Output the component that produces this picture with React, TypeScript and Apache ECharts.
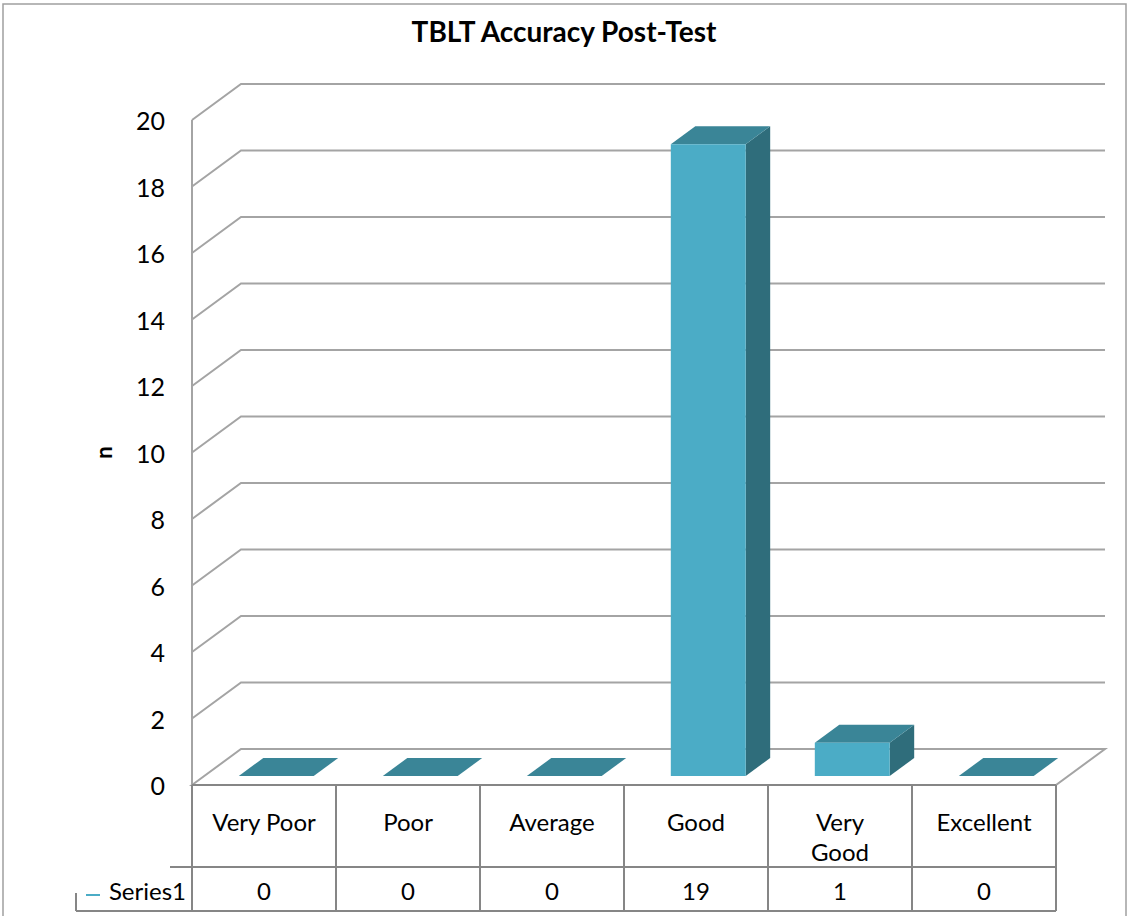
import React, { useEffect, useRef } from "react";
import * as echarts from "echarts";

const categories = ["Very Poor", "Poor", "Average", "Good", "Very Good", "Excellent"];
const counts = [0, 0, 0, 19, 1, 0];
const yTicks = [0, 2, 4, 6, 8, 10, 12, 14, 16, 18, 20];
const seriesName = "Series1";
const chartTitle = "TBLT Accuracy Post-Test";
const yAxisName = "n";

const FONT = "Lato, 'Noto Sans', sans-serif";
const DX = 49;
const DY = -36;
const GRID_COLOR = "#a4a4a4";
const TABLE_COLOR = "#868686";
const FRONT = "#4BACC6";
const TOP = "#3A8597";
const SIDE = "#2F6D7B";
const TABLE_ROW = 867;
const TABLE_BOTTOM = 911;

export default function App() {
  const ref = useRef<HTMLDivElement>(null);
  useEffect(() => {
    if (!ref.current) return;
    const chart = echarts.init(ref.current, null, { renderer: "svg" });
    const option: any = {
      animation: false,
      backgroundColor: "#fff",
      title: {
        text: chartTitle,
        left: "center",
        top: 12,
        textStyle: { fontFamily: FONT, fontWeight: "bold", fontSize: 28, color: "#000" },
      },
      grid: { left: 192, top: 120, width: 864, height: 665 },
      xAxis: {
        type: "category",
        data: categories,
        axisLine: { show: false },
        axisTick: { show: false },
        splitLine: { show: false },
        axisLabel: {
          interval: 0,
          margin: 21,
          fontFamily: FONT,
          fontSize: 24,
          lineHeight: 30,
          color: "#000",
          verticalAlign: "top",
          formatter: (v: string) => (v === "Very Good" ? "Very\nGood" : v),
        },
      },
      yAxis: {
        type: "value",
        min: 0,
        max: 20,
        interval: 2,
        axisLine: { show: false },
        axisTick: { show: false },
        splitLine: { show: false },
        axisLabel: { margin: 27, fontFamily: FONT, fontSize: 25, color: "#000" },
        name: yAxisName,
        nameLocation: "middle",
        nameGap: 78,
        nameRotate: 90,
        nameTextStyle: { fontFamily: FONT, fontWeight: "bold", fontSize: 22, color: "#000" },
      },
      graphic: [
        {
          type: "rect",
          shape: { x: 3, y: 4, width: 1123, height: 930 },
          style: { fill: "none", stroke: "#a0a0a0", lineWidth: 1.5 },
          z: -10,
        },
      ],
      series: [
        {
          type: "custom",
          name: "walls",
          clip: false,
          z: 1,
          silent: true,
          encode: { x: 0, y: 1 },
          data: yTicks.map((v) => [0, v]),
          renderItem: (params: any, api: any) => {
            const v = api.value(1);
            const cs = params.coordSys;
            const left = cs.x;
            const right = cs.x + cs.width;
            const y = api.coord([0, v])[1];
            const children: any[] = [];
            if (v === 0) {
              children.push({
                type: "polygon",
                shape: { points: [[left, y], [left + DX, y + DY], [right + DX, y + DY], [right, y]] },
                style: { fill: "none", stroke: GRID_COLOR, lineWidth: 2 },
              });
            } else {
              children.push({
                type: "polyline",
                shape: { points: [[left, y], [left + DX, y + DY], [right + DX, y + DY]] },
                style: { fill: "none", stroke: GRID_COLOR, lineWidth: 2 },
              });
            }
            if (v === yTicks[yTicks.length - 1]) {
              children.push({
                type: "line",
                shape: { x1: left, y1: y, x2: left, y2: cs.y + cs.height },
                style: { stroke: GRID_COLOR, lineWidth: 2 },
              });
            }
            return { type: "group", children };
          },
        },
        {
          type: "custom",
          name: seriesName,
          clip: false,
          z: 3,
          encode: { x: 0, y: 1 },
          data: counts.map((v, i) => [i, v]),
          renderItem: (params: any, api: any) => {
            const idx = api.value(0);
            const v = api.value(1);
            const base = api.coord([idx, 0]);
            const top = api.coord([idx, v]);
            const band = api.size([1, 0])[0];
            const w = band * 0.52;
            const fx = DX * 0.25;
            const fy = DY * 0.25;
            const bx = DX * 0.5;
            const by = DY * 0.5;
            const x0 = base[0] + fx - w / 2;
            const x1 = x0 + w;
            const yb = base[1] + fy;
            const yt = top[1] + fy;
            const children: any[] = [];
            if (v <= 0) {
              children.push({
                type: "polygon",
                shape: { points: [[x0, yb], [x1, yb], [x1 + bx, yb + by], [x0 + bx, yb + by]] },
                style: { fill: TOP },
              });
            } else {
              children.push({
                type: "polygon",
                shape: { points: [[x1, yt], [x1 + bx, yt + by], [x1 + bx, yb + by], [x1, yb]] },
                style: { fill: SIDE },
              });
              children.push({
                type: "polygon",
                shape: { points: [[x0, yt], [x1, yt], [x1 + bx, yt + by], [x0 + bx, yt + by]] },
                style: { fill: TOP },
              });
              children.push({
                type: "rect",
                shape: { x: x0, y: yt, width: w, height: yb - yt },
                style: { fill: FRONT },
              });
            }
            return { type: "group", children };
          },
        },
        {
          type: "custom",
          name: "table",
          clip: false,
          z: 4,
          silent: true,
          encode: { x: 0, y: 1 },
          data: counts.map((v, i) => [i, v]),
          renderItem: (params: any, api: any) => {
            const idx = api.value(0);
            const v = api.value(1);
            const cs = params.coordSys;
            const left = cs.x;
            const right = cs.x + cs.width;
            const yTop = cs.y + cs.height;
            const c = api.coord([idx, 0]);
            const band = api.size([1, 0])[0];
            const lineStyle = { stroke: TABLE_COLOR, lineWidth: 2 };
            const children: any[] = [
              {
                type: "line",
                shape: { x1: c[0] - band / 2, y1: yTop, x2: c[0] - band / 2, y2: TABLE_BOTTOM },
                style: lineStyle,
              },
              {
                type: "text",
                style: {
                  text: String(v),
                  x: c[0],
                  y: (TABLE_ROW + TABLE_BOTTOM) / 2 + 1,
                  align: "center",
                  verticalAlign: "middle",
                  fontFamily: FONT,
                  fontSize: 24,
                  fill: "#000",
                },
              },
            ];
            if (idx === counts.length - 1) {
              children.push({
                type: "line",
                shape: { x1: right, y1: yTop, x2: right, y2: TABLE_BOTTOM },
                style: lineStyle,
              });
            }
            if (idx === 0) {
              children.push(
                { type: "line", shape: { x1: left, y1: yTop, x2: right, y2: yTop }, style: lineStyle },
                { type: "line", shape: { x1: 170, y1: TABLE_ROW, x2: right, y2: TABLE_ROW }, style: lineStyle },
                { type: "line", shape: { x1: 76, y1: TABLE_BOTTOM, x2: right, y2: TABLE_BOTTOM }, style: lineStyle },
                { type: "line", shape: { x1: 76, y1: 893, x2: 76, y2: TABLE_BOTTOM }, style: lineStyle },
                {
                  type: "line",
                  shape: { x1: 86, y1: 895, x2: 100, y2: 895 },
                  style: { stroke: FRONT, lineWidth: 2 },
                },
                {
                  type: "text",
                  style: {
                    text: seriesName,
                    x: left - 6,
                    y: (TABLE_ROW + TABLE_BOTTOM) / 2 + 1,
                    align: "right",
                    verticalAlign: "middle",
                    fontFamily: FONT,
                    fontSize: 24,
                    fill: "#000",
                  },
                }
              );
            }
            return { type: "group", children };
          },
        },
      ],
    };
    chart.setOption(option);
    return () => chart.dispose();
  }, []);
  return (
    <div
      ref={ref}
      style={{ position: "fixed", left: 0, top: 0, width: 1128, height: 916, background: "#fff" }}
    />
  );
}
